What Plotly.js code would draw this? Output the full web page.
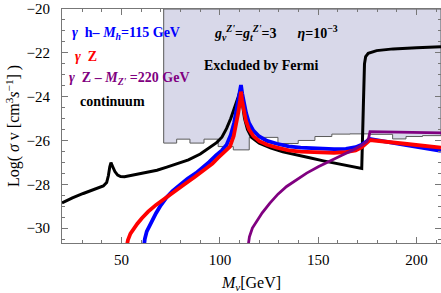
<!DOCTYPE html>
<html>
<head>
<meta charset="utf-8">
<script src="https://cdn.plot.ly/plotly-3.0.1.min.js"></script>
<style>html,body{margin:0;padding:0;background:#fff;}#chart{width:441px;height:293px;}</style>
</head>
<body>
<div id="chart"></div>
<script>
// Fermi exclusion staircase: bin edges and lower boundary levels
var fermiX = [71.4, 78.0, 84.75, 91.9, 99.1, 106.8, 114.9, 129.5, 139.8, 148.3, 156.9, 166.1, 175.8, 187.8, 194.6, 203.0, 212.4];
var fermiY = [-26.12, -25.94, -26.12, -25.94, -26.28, -26.43, -25.86, -26.14, -26.0, -25.82, -25.71, -25.70, -25.72, -25.93, -25.82, -25.78];

// continuum (black)
var contX = [19.7, 25, 30.5, 36, 40.7, 42.4, 43.3, 44.0, 44.6, 45.5, 46.6, 48, 49.5, 51.5, 55, 62, 68, 73, 78, 84, 90, 95, 98.3, 101, 103.4, 105.5, 107.6, 109, 110.2, 110.7, 111.4, 112.5, 114, 116, 120, 126, 132, 138, 145, 152.6, 160, 166, 172.1, 172.9, 173.5, 174.1, 175.4, 179.7, 188.1, 200, 212.4];
var contY = [-28.85, -28.62, -28.42, -28.24, -28.08, -27.92, -27.6, -27.2, -27.01, -27.2, -27.42, -27.58, -27.65, -27.66, -27.6, -27.48, -27.36, -27.22, -27.08, -26.89, -26.62, -26.33, -26.1, -25.85, -25.45, -25.0, -24.5, -24.1, -23.75, -23.75, -24.3, -25.0, -25.5, -25.85, -26.12, -26.35, -26.52, -26.65, -26.78, -26.93, -27.05, -27.15, -27.28, -24.5, -22.5, -22.17, -22.02, -21.9, -21.82, -21.77, -21.72];

// gamma h (blue)
var hX = [61.3, 61.8, 62.8, 64.1, 65.8, 67.5, 70, 72.6, 76, 79.4, 83.5, 87.8, 91.5, 94.6, 98, 101, 103.4, 105.5, 107.2, 108.5, 109.6, 110.3, 110.7, 111.3, 112.2, 113.3, 114.8, 117, 120, 124, 129, 135, 141, 150, 158, 164, 169, 172, 174.5, 176.3, 194, 212.4];
var hY = [-30.9, -30.5, -30.15, -29.9, -29.6, -29.32, -28.95, -28.63, -28.3, -28.03, -27.75, -27.49, -27.22, -26.98, -26.68, -26.45, -26.2, -25.75, -25.2, -24.6, -24.05, -23.7, -23.47, -23.85, -24.3, -24.75, -25.2, -25.55, -25.82, -26.02, -26.15, -26.27, -26.33, -26.38, -26.4, -26.38, -26.31, -26.2, -26.07, -25.93, -26.2, -26.48];

// gamma Z (red)
var zX = [52.5, 53.2, 54.5, 56.1, 58, 60.3, 63.5, 67.5, 71, 74.3, 78.5, 82.7, 87, 91.2, 94, 96.2, 99, 102, 105.1, 107, 108.3, 109.4, 110.2, 110.7, 111.3, 112.2, 113.2, 114.8, 117, 120, 124, 129, 135, 141, 150, 158, 164, 169, 172, 174.5, 176.3, 194, 212.4];
var zY = [-30.9, -30.55, -30.25, -30.03, -29.8, -29.55, -29.25, -28.94, -28.7, -28.48, -28.22, -27.95, -27.68, -27.42, -27.22, -27.06, -26.8, -26.55, -26.28, -25.8, -25.3, -24.7, -24.2, -23.77, -24.2, -24.7, -25.1, -25.5, -25.8, -26.03, -26.2, -26.33, -26.45, -26.51, -26.56, -26.57, -26.53, -26.45, -26.32, -26.15, -25.98, -26.15, -26.33];

// gamma Z with M_Z' = 220 GeV (purple)
var zpX = [114.2, 115.0, 116.5, 118.7, 121.5, 125.4, 129.5, 133.9, 139, 144.1, 150, 155.9, 162, 167.8, 172, 174.6, 175.6, 176.3, 190, 212.4];
var zpY = [-30.9, -30.4, -30.0, -29.7, -29.3, -28.86, -28.45, -28.1, -27.78, -27.49, -27.2, -26.93, -26.67, -26.43, -26.22, -26.05, -25.9, -25.6, -25.62, -25.65];

var xTicks = [50, 100, 150, 200];
var yTicks = [-30, -28, -26, -24, -22, -20];

var yTop = -20;
var fx = [fermiX[0]], fy = [yTop];
for (var i = 0; i < fermiY.length; i++) {
  fx.push(fermiX[i]); fy.push(fermiY[i]);
  fx.push(fermiX[i + 1]); fy.push(fermiY[i]);
}
fx.push(fermiX[fermiX.length - 1]); fy.push(yTop);
fx.push(fermiX[0]); fy.push(yTop);

var serif = 'Liberation Serif, Times New Roman, serif';

var traces = [
  {x: fx, y: fy, mode: 'lines', fill: 'toself', fillcolor: 'rgb(216,216,233)', line: {color: '#5a5a5a', width: 1}, hoverinfo: 'skip'},
  {x: contX, y: contY, mode: 'lines', line: {color: '#000000', width: 3}},
  {x: hX, y: hY, mode: 'lines', line: {color: '#0000ff', width: 3.8}},
  {x: zX, y: zY, mode: 'lines', line: {color: '#ff0000', width: 3.8}},
  {x: zpX, y: zpY, mode: 'lines', line: {color: '#800080', width: 2.8}}
];

var fnt = function (c) { return {family: serif, size: 14, color: c}; };
var layout = {
  width: 441, height: 293,
  margin: {l: 62, r: 0, t: 9, b: 50},
  paper_bgcolor: '#fff', plot_bgcolor: '#fff',
  showlegend: false,
  font: {family: serif, size: 15, color: '#000'},
  xaxis: {
    range: [19.7, 212.4], tickvals: xTicks, ticktext: xTicks.map(String),
    ticks: 'inside', ticklen: 6, tickcolor: '#777', showline: true, linecolor: '#777', linewidth: 1,
    mirror: 'allticks', showgrid: false, zeroline: false, ticklabelstandoff: 3,
    minor: {dtick: 10, tick0: 0, ticks: 'inside', ticklen: 3, tickcolor: '#777', showgrid: false},
    tickfont: {family: serif, size: 15, color: '#000'},
    title: {text: '<i>M<sub>ν</sub></i>[GeV]', font: {family: serif, size: 16, color: '#000'}, standoff: 13}
  },
  yaxis: {
    range: [-30.68, -20], tickvals: yTicks, ticktext: yTicks.map(function (v) { return v === 0 ? '0' : '\u2212' + Math.abs(v); }),
    ticks: 'inside', ticklen: 6, tickcolor: '#777', showline: true, linecolor: '#777', linewidth: 1,
    mirror: 'allticks', showgrid: false, zeroline: false, ticklabelstandoff: 8,
    minor: {dtick: 0.5, tick0: 0, ticks: 'inside', ticklen: 3, tickcolor: '#777', showgrid: false},
    tickfont: {family: serif, size: 15, color: '#000'},
    title: {text: 'Log( <i>σ</i> v [cm<sup>3</sup><i>s</i><sup>−1</sup>] )', font: {family: serif, size: 16, color: '#000'}, standoff: 2}
  },
  annotations: [
    {x: 23.7, y: -21.14, xref: 'x', yref: 'y', xanchor: 'left', yanchor: 'middle', showarrow: false, font: fnt('#0000ff'),
     text: '<b><i>γ</i>  h– <i>M<sub>h</sub></i>=115 GeV</b>'},
    {x: 25.3, y: -22.19, xref: 'x', yref: 'y', xanchor: 'left', yanchor: 'middle', showarrow: false, font: fnt('#ff0000'),
     text: '<b><i>γ</i>  Z</b>'},
    {x: 22.2, y: -23.15, xref: 'x', yref: 'y', xanchor: 'left', yanchor: 'middle', showarrow: false, font: fnt('#800080'),
     text: "<b><i>γ</i>  Z – <i>M<sub>Z'</sub></i> =220 GeV</b>"},
    {x: 27.8, y: -24.2, xref: 'x', yref: 'y', xanchor: 'left', yanchor: 'middle', showarrow: false, font: fnt('#000'),
     text: '<b>continuum</b>'},
    {x: 95.8, y: -21.11, xref: 'x', yref: 'y', xanchor: 'left', yanchor: 'middle', showarrow: false, font: fnt('#000'),
     text: "<b><i>g<sub>ν</sub><sup>Z'</sup></i>=<i>g<sub>t</sub><sup>Z'</sup></i>=3      <i>η</i>=10<sup>−3</sup></b>"},
    {x: 90.7, y: -22.59, xref: 'x', yref: 'y', xanchor: 'left', yanchor: 'middle', showarrow: false, font: fnt('#000'),
     text: '<b>Excluded by Fermi</b>'}
  ]
};

Plotly.newPlot('chart', traces, layout, {staticPlot: true, displayModeBar: false});
</script>
</body>
</html>
